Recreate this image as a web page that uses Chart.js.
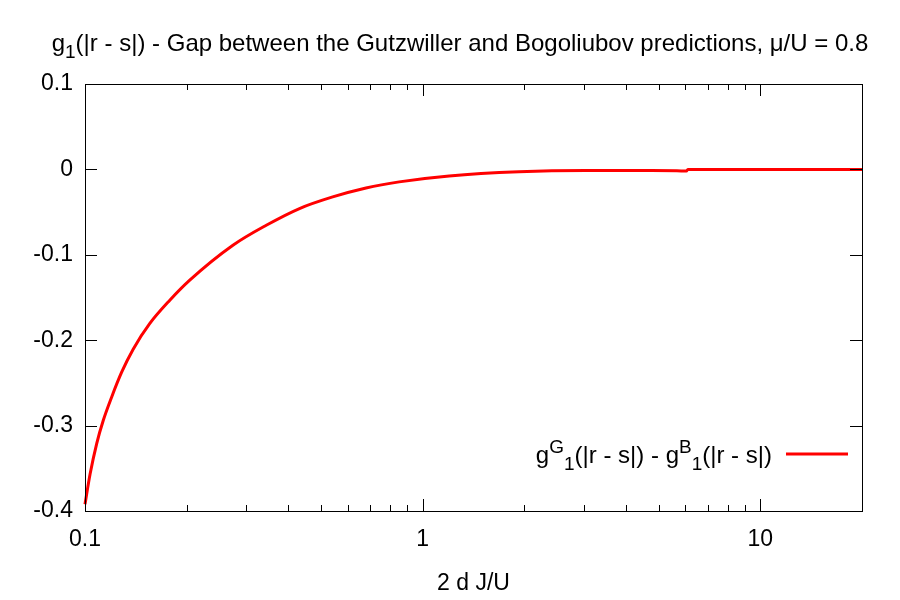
<!DOCTYPE html>
<html>
<head>
<meta charset="utf-8">
<title>g1 gap</title>
<script src="https://cdn.jsdelivr.net/npm/chart.js@4/dist/chart.umd.min.js"></script>
<style>
  body { margin: 0; background: #fff; }
  canvas { display: block; }
</style>
</head>
<body>
<canvas id="gapChart" width="900" height="600"></canvas>
<script>
  // values
  const xValues = [0.1, 0.1035, 0.1083, 0.1133, 0.1199, 0.1284, 0.1389, 0.1556, 0.1783, 0.2043,
    0.2742, 0.3442, 0.4317, 0.5414, 0.6795, 0.852, 1.198, 1.928, 3.04, 4.76, 5.83,
    6.04, 6.1, 10, 20];
  const gapValues = [-0.392, -0.357, -0.321, -0.2937, -0.2667, -0.2375, -0.2105, -0.1804, -0.1532, -0.1297,
    -0.0888, -0.0654, -0.0458, -0.0322, -0.0217, -0.0146, -0.0077, -0.0028, -0.0013, -0.0014, -0.0018,
    -0.0019, 0, 0, 0];
  const xTicks = [0.1, 1, 10];
  const yTicks = [-0.4, -0.3, -0.2, -0.1, 0, 0.1];

  const titleMain = 'g';
  const titleSub = '1';
  const titleRest = '(|r - s|) - Gap between the Gutzwiller and Bogoliubov predictions, \u03bc/U = 0.8';
  const xLabel = '2 d J/U';

  const FONT = '"Liberation Sans", Arial, sans-serif';

  // draws text pieces: [text, kind] where kind is 'n', 'sup' or 'sub'
  function drawRich(ctx, pieces, x, y, size, align) {
    const small = Math.round(size * 0.8);
    let total = 0;
    pieces.forEach(p => {
      ctx.font = (p[1] === 'n' ? size : small) + 'px ' + FONT;
      total += ctx.measureText(p[0]).width;
    });
    let cx = align === 'right' ? x - total : (align === 'center' ? x - total / 2 : x);
    ctx.textAlign = 'left';
    ctx.textBaseline = 'alphabetic';
    pieces.forEach(p => {
      ctx.font = (p[1] === 'n' ? size : small) + 'px ' + FONT;
      let dy = 0;
      if (p[1] === 'sup') dy = -size * 0.42;
      if (p[1] === 'sub') dy = size * 0.28;
      ctx.fillText(p[0], cx, y + dy);
      cx += ctx.measureText(p[0]).width;
    });
  }

  const framePlugin = {
    id: 'frame',
    afterDraw(chart) {
      const ctx = chart.ctx;
      const a = chart.chartArea;
      const xs = chart.scales.x;
      const ys = chart.scales.y;
      ctx.save();
      ctx.strokeStyle = '#000';
      ctx.lineWidth = 1;
      ctx.strokeRect(Math.round(a.left) + 0.5, Math.round(a.top) + 0.5,
        Math.round(a.right - a.left), Math.round(a.bottom - a.top));

      ctx.beginPath();
      yTicks.forEach(v => {
        const py = Math.round(ys.getPixelForValue(v)) + 0.5;
        ctx.moveTo(a.left, py); ctx.lineTo(a.left + 12, py);
        ctx.moveTo(a.right, py); ctx.lineTo(a.right - 12, py);
      });
      xTicks.forEach(d => {
        for (let k = 1; k <= 9; k++) {
          const v = d * k;
          if (v > xs.max + 1e-9) break;
          const len = k === 1 ? 12 : 6;
          const px = Math.round(xs.getPixelForValue(v)) + 0.5;
          ctx.moveTo(px, a.bottom); ctx.lineTo(px, a.bottom - len);
          ctx.moveTo(px, a.top); ctx.lineTo(px, a.top + len);
        }
      });
      ctx.stroke();

      // title
      ctx.fillStyle = '#000';
      drawRich(ctx, [[titleMain, 'n'], [titleSub, 'sub'], [titleRest, 'n']], 460, 51, 24, 'center');

      // key
      drawRich(ctx, [['g', 'n'], ['G', 'sup'], ['1', 'sub'], ['(|r - s|) - g', 'n'],
        ['B', 'sup'], ['1', 'sub'], ['(|r - s|)', 'n']], 772, 463, 24, 'right');
      ctx.strokeStyle = '#ff0000';
      ctx.lineWidth = 3;
      ctx.beginPath();
      ctx.moveTo(786, 454); ctx.lineTo(848, 454);
      ctx.stroke();
      ctx.restore();
    }
  };

  const ctx = document.getElementById('gapChart').getContext('2d');

  new Chart(ctx, {
    type: 'line',
    data: {
      datasets: [{
        label: 'gG1(|r - s|) - gB1(|r - s|)',
        data: xValues.map((x, i) => ({ x: x, y: gapValues[i] })),
        borderColor: '#ff0000',
        borderWidth: 3,
        pointRadius: 0,
        fill: false,
        cubicInterpolationMode: 'monotone',
        clip: false
      }]
    },
    options: {
      responsive: false,
      animation: false,
      layout: { padding: { left: 0, right: 38, top: 84, bottom: 0 } },
      plugins: {
        legend: { display: false },
        title: { display: false },
        tooltip: { enabled: false }
      },
      scales: {
        x: {
          type: 'logarithmic',
          min: 0.1,
          max: 20,
          grid: { display: false, drawTicks: false },
          border: { display: false },
          afterBuildTicks: s => { s.ticks = xTicks.map(v => ({ value: v })); },
          afterFit: s => { s.height = 89; },
          ticks: {
            color: '#000',
            font: { family: FONT, size: 23 },
            padding: 15,
            autoSkip: false,
            maxRotation: 0,
            callback: v => String(v)
          },
          title: {
            display: true,
            text: xLabel,
            color: '#000',
            font: { family: FONT, size: 23 },
            padding: { top: 0, bottom: 3 }
          }
        },
        y: {
          min: -0.4,
          max: 0.1,
          grid: { display: false, drawTicks: false },
          border: { display: false },
          afterBuildTicks: s => { s.ticks = yTicks.map(v => ({ value: v })); },
          afterFit: s => { s.width = 85; },
          ticks: {
            color: '#000',
            font: { family: FONT, size: 23 },
            padding: 12,
            callback: v => String(Math.round(v * 10) / 10)
          }
        }
      }
    },
    plugins: [framePlugin]
  });
</script>
</body>
</html>
